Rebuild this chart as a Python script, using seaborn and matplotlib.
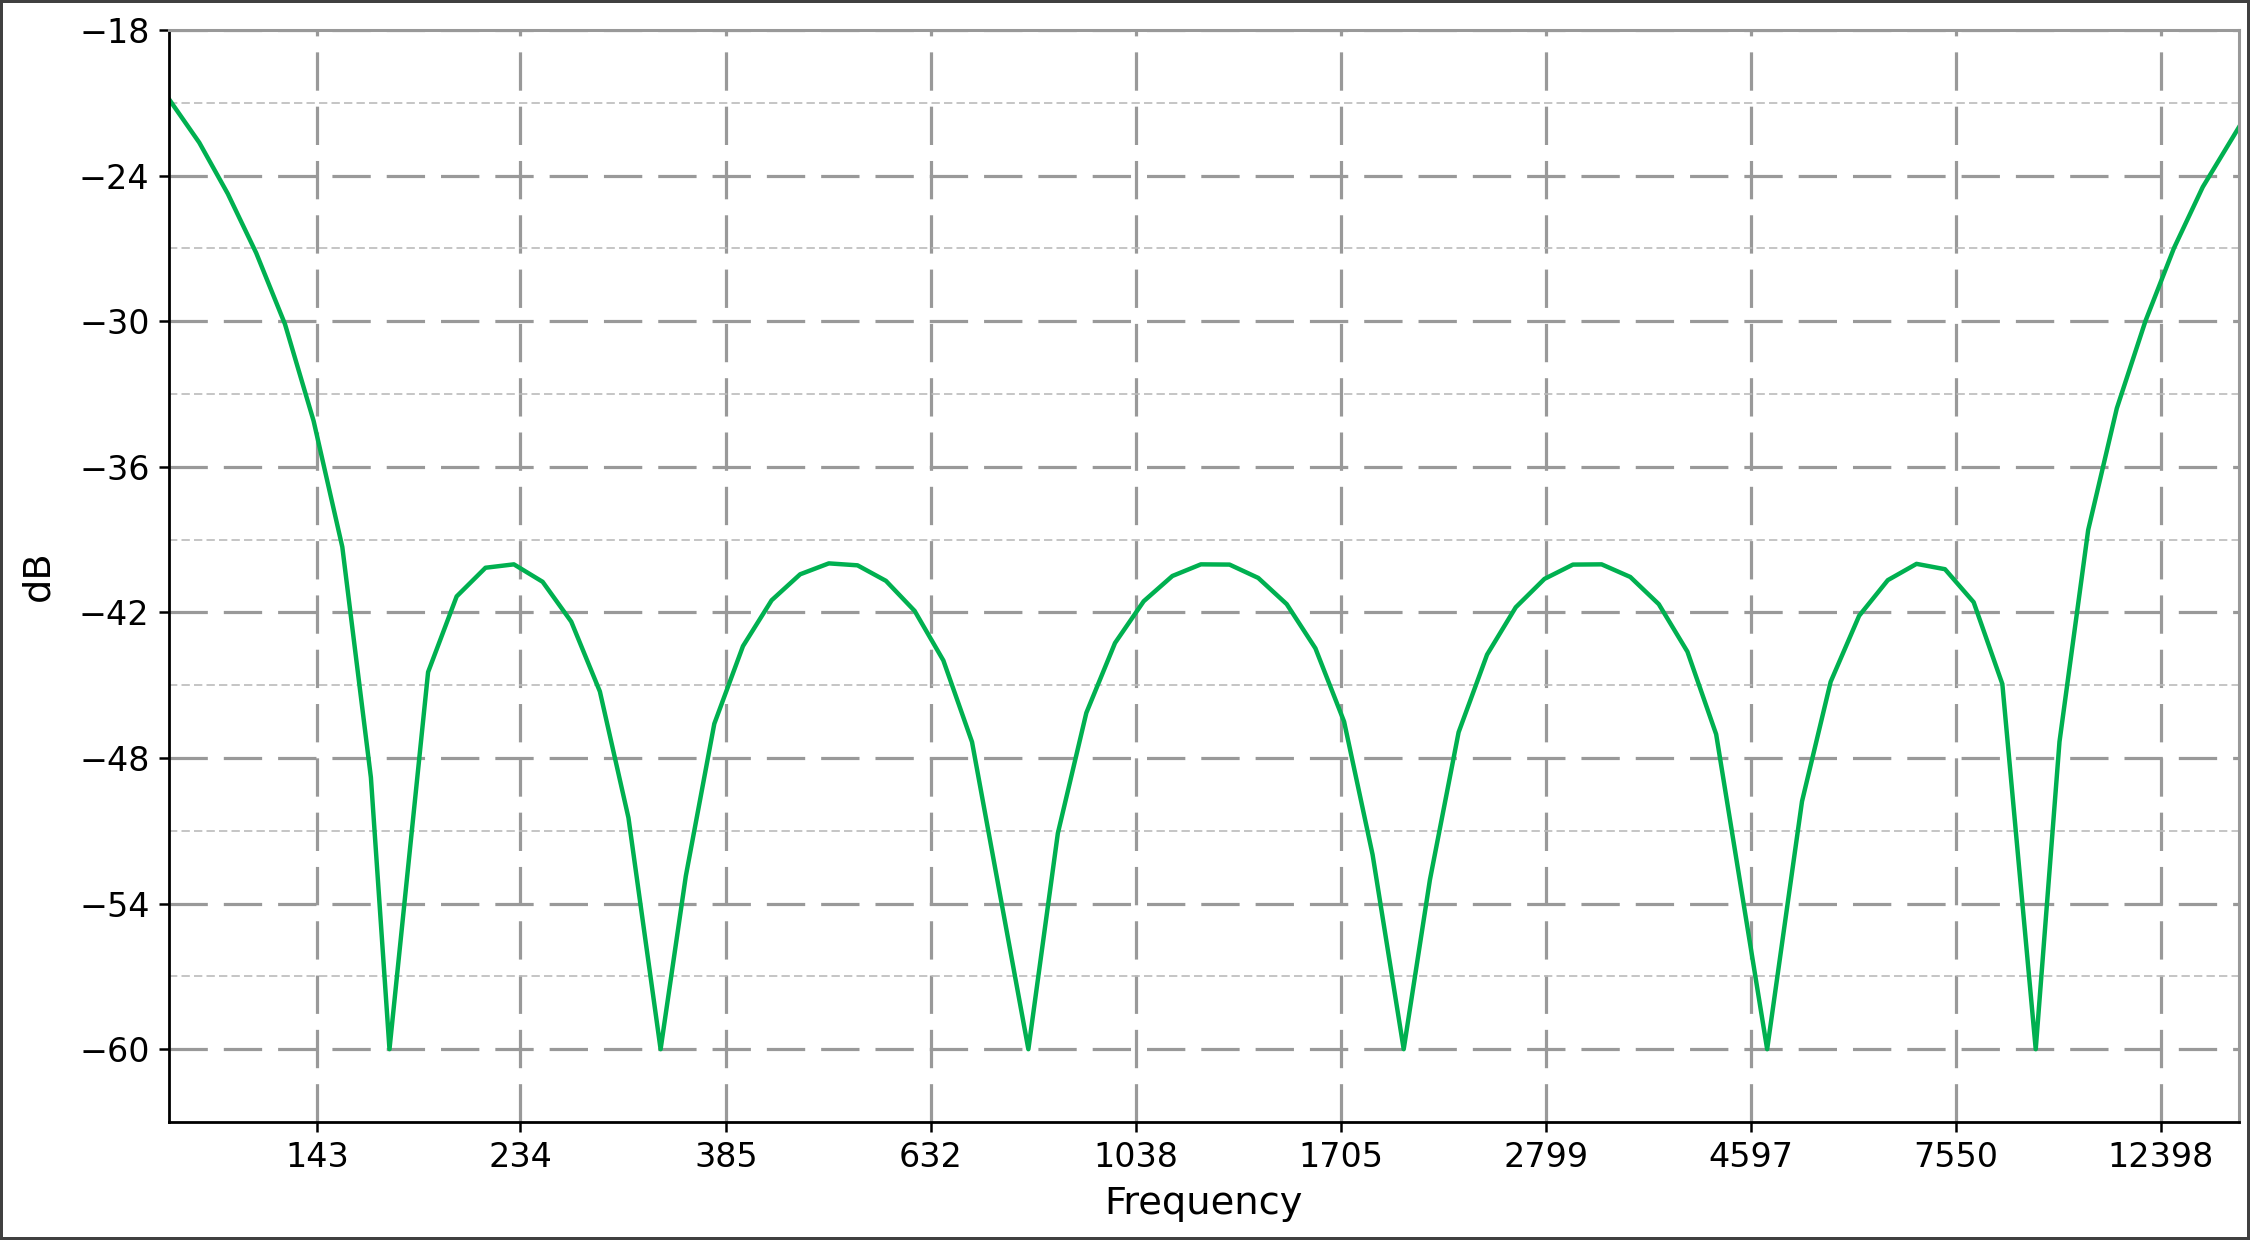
import matplotlib
matplotlib.use("Agg")
import matplotlib.pyplot as plt
import seaborn as sns
import pandas as pd
from matplotlib.ticker import FixedLocator, NullLocator

# ---- data ----
freq = [100, 107.6, 115.3, 123.5, 132.4, 141.9, 152.1, 163.0, 170.5, 187.2,
        200.6, 215.1, 230.4, 247.0, 264.7, 283.7, 304.0, 328.6, 349.3, 374.2,
        401.1, 429.9, 460.6, 493.7, 529.2, 566.9, 607.7, 651.4, 698.2, 800.2,
        859.4, 920.7, 986.9, 1057.8, 1133.8, 1214.8, 1302.1, 1395.7, 1495.3, 1602.8,
        1718.0, 1840.6, 1984.6, 2114.6, 2266.6, 2428.3, 2602.7, 2789.9, 2989.0, 3203.9,
        3434.1, 3679.1, 3943.5, 4227.2, 4782.6, 5203.3, 5576.9, 5974.8, 6404.8, 6865.0,
        7354.6, 7883.2, 8449.7, 9160.7, 9703.0, 10401, 11147, 11945, 12803, 13724,
        14982]
db = [-20.85, -22.64, -24.75, -27.19, -30.12, -34.11, -39.3, -48.8, -60.0, -44.46,
      -41.34, -40.16, -40.02, -40.74, -42.38, -45.26, -50.46, -60.0, -52.86, -46.59,
      -43.39, -41.50, -40.43, -39.98, -40.06, -40.70, -41.94, -43.98, -47.34, -60.0,
      -51.10, -46.14, -43.26, -41.54, -40.50, -40.02, -40.03, -40.58, -41.66, -43.48,
      -46.50, -51.98, -60.0, -53.02, -46.94, -43.74, -41.79, -40.62, -40.03, -40.02,
      -40.54, -41.66, -43.62, -47.02, -60.0, -49.79, -44.86, -42.14, -40.67, -40.00,
      -40.22, -41.58, -44.95, -60.0, -47.33, -38.60, -33.59, -30.00, -26.98, -24.47,
      -22.00]
xtick_values = [143, 234, 385, 632, 1038, 1705, 2799, 4597, 7550, 12398]
xtick_labels = ["143", "234", "385", "632", "1038", "1705", "2799", "4597", "7550", "12398"]
ytick_values = [-18, -24, -30, -36, -42, -48, -54, -60]
yminor_values = [-21, -27, -33, -39, -45, -51, -57]

df = pd.DataFrame({"Frequency": freq, "dB": db})

fig = plt.figure(figsize=(11.25, 6.2), dpi=200, edgecolor="#404040", linewidth=2)
ax = fig.add_axes([169 / 2250, 1 - 1122 / 1240, (2239 - 169) / 2250, (1122 - 30) / 1240])

sns.lineplot(data=df, x="Frequency", y="dB", ax=ax, color="#00b050",
             linewidth=1.6, sort=False, estimator=None)

ax.set_xscale("log")
ax.set_xlim(min(freq), max(freq))
ax.set_ylim(-63, -18)

ax.xaxis.set_major_locator(FixedLocator(xtick_values))
ax.set_xticklabels(xtick_labels)
ax.xaxis.set_minor_locator(NullLocator())
ax.yaxis.set_major_locator(FixedLocator(ytick_values))
ax.yaxis.set_minor_locator(FixedLocator(yminor_values))

ax.tick_params(axis="both", which="major", labelsize=12, length=3.5, width=0.9, colors="black")
ax.tick_params(axis="y", which="minor", length=0)

ax.set_axisbelow(True)
ax.grid(which="major", axis="both", color="#999999", linestyle=(0, (12, 5)), linewidth=1.15)
ax.grid(which="minor", axis="y", color="#bbbbbb", linestyle=(0, (5, 2.5)), linewidth=0.6)

for s in ["left", "bottom"]:
    ax.spines[s].set_color("black")
    ax.spines[s].set_linewidth(1.0)
for s in ["top", "right"]:
    ax.spines[s].set_color("#999999")
    ax.spines[s].set_linewidth(1.1)

ax.set_xlabel("Frequency", fontsize=13.8)
ax.set_ylabel("dB", fontsize=13.8, labelpad=8)

fig.savefig("out.png", dpi=200)
